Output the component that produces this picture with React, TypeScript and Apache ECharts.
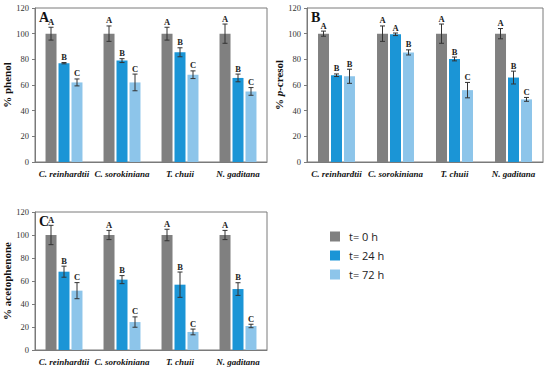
import React, { useEffect, useRef } from "react";
import * as echarts from "echarts";

const categories = ["C. reinhardtii", "C. sorokiniana", "T. chuii", "N. gaditana"];
const seriesNames = ["t= 0 h", "t= 24 h", "t= 72 h"];
const yTicks = { min: 0, max: 120, interval: 20 };

// Panel A: % phenol
const phenol0 = [100, 100, 100, 100];
const phenol24 = [77, 79, 85.5, 65.5];
const phenol72 = [62, 62, 68, 55];
const phenolErr0 = [5, 6, 5, 7.5];
const phenolErr24 = [0.5, 1.5, 3.5, 3];
const phenolErr72 = [2.7, 6.5, 3, 3];
const phenolLetters0 = ["A", "A", "A", "A"];
const phenolLetters24 = ["B", "B", "B", "B"];
const phenolLetters72 = ["C", "C", "C", "C"];

// Panel B: % p-cresol
const cresol0 = [100, 100, 100, 100];
const cresol24 = [67.6, 99.5, 80.3, 65.8];
const cresol72 = [66.8, 85.4, 56, 48.8];
const cresolErr0 = [2, 6, 7.5, 4];
const cresolErr24 = [1, 1, 1.5, 5];
const cresolErr72 = [5.5, 2, 6, 1.5];
const cresolLetters0 = ["A", "A", "A", "A"];
const cresolLetters24 = ["B", "A", "B", "B"];
const cresolLetters72 = ["B", "B", "C", "C"];

// Panel C: % acetophenone
const aceto0 = [100, 100, 100, 100];
const aceto24 = [68.1, 61.2, 56.8, 53];
const aceto72 = [51.6, 24.3, 15.7, 20.9];
const acetoErr0 = [8.4, 4, 5, 4];
const acetoErr24 = [4.8, 3.5, 11, 5.5];
const acetoErr72 = [7, 4.5, 2.5, 1.5];
const acetoLetters0 = ["A", "A", "A", "A"];
const acetoLetters24 = ["B", "B", "B", "B"];
const acetoLetters72 = ["C", "C", "C", "C"];

const COLORS = ["#808080", "#1b95d6", "#8dc5ea"];
const SERIF = "Liberation Serif";
const BAR_W = 11;
const BAR_STEP = 13;

type Panel = {
  values: number[][];
  errs: number[][];
  letters: string[][];
  name: string;
  rich?: boolean;
  grid: { left: number; top: number; width: number; height: number };
  nameGap: number;
  tag: string;
};

const panels: Panel[] = [
  {
    values: [phenol0, phenol24, phenol72],
    errs: [phenolErr0, phenolErr24, phenolErr72],
    letters: [phenolLetters0, phenolLetters24, phenolLetters72],
    name: "% phenol",
    grid: { left: 35, top: 8, width: 232, height: 154 },
    nameGap: 22,
    tag: "A",
  },
  {
    values: [cresol0, cresol24, cresol72],
    errs: [cresolErr0, cresolErr24, cresolErr72],
    letters: [cresolLetters0, cresolLetters24, cresolLetters72],
    name: "{n|% }{i|p}{n|-cresol}",
    rich: true,
    grid: { left: 307, top: 8, width: 236, height: 154 },
    nameGap: 22,
    tag: "B",
  },
  {
    values: [aceto0, aceto24, aceto72],
    errs: [acetoErr0, acetoErr24, acetoErr72],
    letters: [acetoLetters0, acetoLetters24, acetoLetters72],
    name: "% acetophenone",
    grid: { left: 35, top: 212, width: 232, height: 138 },
    nameGap: 22,
    tag: "C",
  },
];

export default function App() {
  const ref = useRef<HTMLDivElement>(null);
  useEffect(() => {
    if (!ref.current) return;
    const chart = echarts.init(ref.current, undefined, { renderer: "svg" });
    const grids: any[] = [];
    const xAxes: any[] = [];
    const yAxes: any[] = [];
    const series: any[] = [];
    const graphics: any[] = [];

    panels.forEach((p, pi) => {
      grids.push({
        ...p.grid,
        show: true,
        borderColor: "#7a7a7a",
        borderWidth: 1,
        backgroundColor: "transparent",
      });
      xAxes.push({
        type: "category",
        gridIndex: pi,
        data: categories,
        axisLine: { show: true, lineStyle: { color: "#7a7a7a" } },
        axisTick: { show: false },
        axisLabel: {
          interval: 0,
          fontFamily: SERIF,
          fontStyle: "italic",
          fontWeight: "bold",
          fontSize: 9,
          color: "#111",
          margin: 7,
        },
      });
      const nameStyle: any = {
        fontFamily: SERIF,
        fontWeight: "bold",
        fontSize: 11,
        color: "#111",
      };
      if (p.rich) {
        nameStyle.rich = {
          n: { fontFamily: SERIF, fontWeight: "bold", fontSize: 11, color: "#111" },
          i: { fontFamily: SERIF, fontWeight: "bold", fontStyle: "italic", fontSize: 11, color: "#111" },
        };
      }
      yAxes.push({
        type: "value",
        gridIndex: pi,
        min: yTicks.min,
        max: yTicks.max,
        interval: yTicks.interval,
        name: p.name,
        nameLocation: "middle",
        nameGap: p.nameGap,
        nameTextStyle: nameStyle,
        splitLine: { show: false },
        axisLine: { show: true, lineStyle: { color: "#7a7a7a" } },
        axisTick: { show: true, length: 3, lineStyle: { color: "#7a7a7a" } },
        axisLabel: { fontFamily: SERIF, fontSize: 8.5, color: "#333", margin: 6 },
      });
      p.values.forEach((vals, si) => {
        series.push({
          type: "bar",
          name: seriesNames[si],
          xAxisIndex: pi,
          yAxisIndex: pi,
          data: vals,
          barWidth: BAR_W,
          barGap: "18%",
          itemStyle: { color: COLORS[si] },
        });
      });
      const errData: any[] = [];
      p.values.forEach((vals, si) => {
        vals.forEach((v, ci) => {
          errData.push([ci, v, p.errs[si][ci], si, p.letters[si][ci]]);
        });
      });
      series.push({
        type: "custom",
        name: "err" + pi,
        xAxisIndex: pi,
        yAxisIndex: pi,
        data: errData,
        z: 10,
        renderItem: (params: any, api: any) => {
          const ci = api.value(0);
          const v = api.value(1);
          const e = api.value(2);
          const si = api.value(3);
          const item = errData[params.dataIndex];
          const letter = item[4];
          const hi = api.coord([ci, v + e]);
          const lo = api.coord([ci, v - e]);
          const x = hi[0] + (si - 1) * BAR_STEP;
          const cap = 2.5;
          const ls = { stroke: "#333", lineWidth: 1 };
          return {
            type: "group",
            children: [
              { type: "line", shape: { x1: x, y1: hi[1], x2: x, y2: lo[1] }, style: ls },
              { type: "line", shape: { x1: x - cap, y1: hi[1], x2: x + cap, y2: hi[1] }, style: ls },
              { type: "line", shape: { x1: x - cap, y1: lo[1], x2: x + cap, y2: lo[1] }, style: ls },
              {
                type: "text",
                x: x,
                y: hi[1] - 1,
                style: {
                  text: letter,
                  fontFamily: SERIF,
                  fontWeight: "bold",
                  fontSize: 8.5,
                  fill: "#222",
                  align: "center",
                  verticalAlign: "bottom",
                },
              },
            ],
          };
        },
      });
      graphics.push({
        type: "text",
        left: p.grid.left + 4,
        top: p.grid.top + 2,
        style: {
          text: p.tag,
          fontFamily: SERIF,
          fontWeight: "bold",
          fontSize: 14,
          fill: "#111",
        },
      });
    });

    chart.setOption({
      animation: false,
      backgroundColor: "#fff",
      grid: grids,
      xAxis: xAxes,
      yAxis: yAxes,
      series,
      graphic: graphics,
      legend: {
        data: seriesNames,
        orient: "vertical",
        left: 325,
        top: 226,
        itemWidth: 10,
        itemHeight: 10,
        itemGap: 8,
        icon: "rect",
        textStyle: {
          fontFamily: "Open Sans",
          fontSize: 11,
          color: "#222",
          padding: [0, 0, 0, 4],
        },
      },
    });
    return () => chart.dispose();
  }, []);
  return <div ref={ref} style={{ width: 550, height: 372, position: "absolute", left: 0, top: 0 }} />;
}
